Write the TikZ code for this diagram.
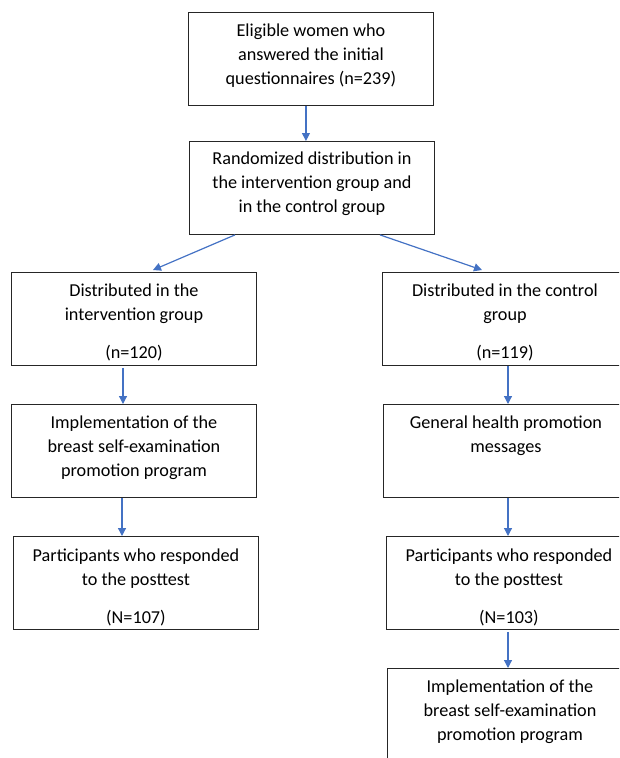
\documentclass[tikz,border=0pt]{standalone}
\usepackage{fontspec}
\setmainfont{Carlito}
\usetikzlibrary{arrows.meta,calc}
\definecolor{arrblue}{RGB}{68,114,196}
\begin{document}
\begin{tikzpicture}[x=1pt,y=-1pt,
  box/.style={draw=black!85, line width=0.9pt, minimum width=245pt, minimum height=93pt, inner sep=0pt, anchor=north west},
  txt/.style={font=\fontsize{18.2}{24}\selectfont, align=center, inner sep=0pt, anchor=north},
  arr/.style={draw=arrblue, line width=1.2pt, -{Triangle[length=8pt,width=8pt]}}]
\clip (0,0) rectangle (619,758);
\node[box] (b1) at (188,12) {};
\node[box] (b2) at (189,141) {};
\node[box] (b3) at (11,272) {};
\node[box] (b4) at (382,272) {};
\node[box] (b5) at (11,404) {};
\node[box] (b6) at (383,404) {};
\node[box] (b7) at (13,536) {};
\node[box] (b8) at (386,536) {};
\node[box] (b9) at (387,668) {};
\node[txt] (t1) at ([yshift=-12pt]b1.north) {Eligible women who\\answered the initial\\questionnaires (n=239)};
\node[txt] (t2) at ([yshift=-11pt]b2.north) {Randomized distribution in\\the intervention group and\\in the control group};
\node[txt] (t3) at ([yshift=-12pt]b3.north) {Distributed in the\\intervention group\\[14pt](n=120)};
\node[txt] (t4) at ([yshift=-12pt]b4.north) {Distributed in the control\\group\\[14pt](n=119)};
\node[txt] (t5) at ([yshift=-12pt]b5.north) {Implementation of the\\breast self-examination\\promotion program};
\node[txt] (t6) at ([yshift=-12pt]b6.north) {General health promotion\\messages};
\node[txt] (t7) at ([yshift=-13pt]b7.north) {Participants who responded\\to the posttest\\[14pt](N=107)};
\node[txt] (t8) at ([yshift=-13pt]b8.north) {Participants who responded\\to the posttest\\[14pt](N=103)};
\node[txt] (t9) at ([yshift=-12pt]b9.north) {Implementation of the\\breast self-examination\\promotion program};
\draw[arr] ([xshift=-5pt]b1.south) -- ([xshift=-5pt]b1.south |- b2.north);
\draw[arr] ([xshift=46pt]b2.south west) -- ([xshift=142pt,yshift=2pt]b3.north west);
\draw[arr] ([xshift=191pt]b2.south west) -- ([xshift=100pt,yshift=2pt]b4.north west);
\draw[arr] ([xshift=112pt,yshift=-2pt]b3.south west) -- ([xshift=112pt]b3.south west |- b5.north);
\draw[arr] ([xshift=126pt]b4.south west) -- ([xshift=126pt]b4.south west |- b6.north);
\draw[arr] ([xshift=111pt]b5.south west) -- ([xshift=111pt]b5.south west |- b7.north);
\draw[arr] ([xshift=125pt]b6.south west) -- ([xshift=125pt]b6.south west |- b8.north);
\draw[arr] ([xshift=122pt,yshift=-2pt]b8.south west) -- ([xshift=122pt]b8.south west |- b9.north);
\end{tikzpicture}
\end{document}
